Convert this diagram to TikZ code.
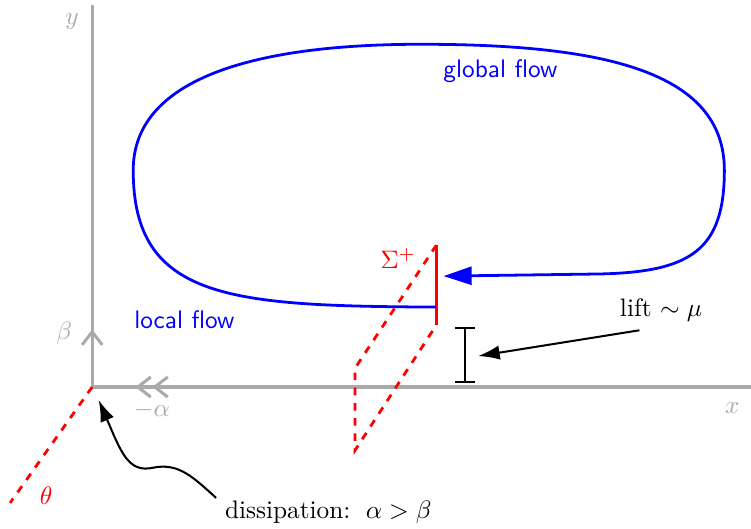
\documentclass[tikz,border=0pt]{standalone}
\usepackage{amsmath,amssymb}
\usepackage{xcolor}
\usetikzlibrary{arrows.meta}
\definecolor{axisgray}{RGB}{170,170,170}

\begin{document}
\begin{tikzpicture}[
    axis/.style={draw=axisgray, line width=1.2pt},
    axlabel/.style={text=axisgray},
    flow/.style={draw=blue, line width=1.1pt},
    flowlabel/.style={text=blue, font=\sffamily},
    sect/.style={draw=red, line width=1.1pt, dashed},
    arr/.style={-{Latex[length=3mm,width=2mm]}, thick}
]
    \useasboundingbox (-1.28,-1.97) rectangle (9.15,5.375);

    % Axes
    \coordinate (O) at (0,0);
    \draw[axis] (O) -- (0,5.31);
    \draw[axis] (O) -- (9.15,0);
    \draw[axis, -{Straight Barb[length=1.8mm,width=2.8mm]}] (0,0.6) -- (0,0.8);
    \draw[axis, -{Straight Barb[length=1.8mm,width=2.8mm] Straight Barb[length=1.8mm,width=2.8mm]}] (1.15,0) -- (0.6,0);
    \node[axlabel] (ylab) at (-0.28,5.07) {$y$};
    \node[axlabel] (xlab) at (8.89,-0.29) {$x$};
    \node[axlabel] (blab) at (-0.39,0.75) {$\beta$};
    \node[axlabel] (alab) at (0.83,-0.32) {$-\alpha$};

    % Dissipation direction
    \draw[sect] (O) -- (-1.14,-1.61);
    \node[text=red] (theta) at (-0.64,-1.51) {$\theta$};

    % Section
    \draw[sect] (4.78,1.97) -- (3.65,0.26) -- (3.65,-0.88) -- (4.78,0.86);
    \draw[draw=red, line width=1.3pt] (4.78,0.86) -- (4.78,1.97);
    \node[text=red] (sig) at (4.25,1.79) {$\Sigma^+$};

    % Flow loop
    \draw[flow, -{Triangle[length=3.9mm,width=2.5mm]}] (4.78,1.11)
        .. controls (1.92,1.125) and (0.57,1.21) .. (0.57,3.01)
        .. controls (0.57,4.26) and (2.19,4.76) .. (4.56,4.76)
        .. controls (7.06,4.76) and (8.78,4.4) .. (8.78,3.01)
        .. controls (8.78,1.9) and (8.31,1.6) .. (7.06,1.57) -- (4.88,1.54);
    \node[flowlabel] (glob) at (5.67,4.38) {global flow};
    \node[flowlabel] (loc) at (1.28,0.93) {local flow};

    % Lift
    \draw[thick, {Bar[width=2.8mm]}-{Bar[width=2.8mm]}] (5.18,0.06) -- (5.18,0.83);
    \coordinate (liftend) at (5.36,0.43);
    \node (lift) at (7.9,1.07) {lift $\sim\mu$};
    \draw[arr] ([xshift=-0.3cm]lift.south) -- (liftend);

    % Dissipation
    \node (diss) at (3.28,-1.74) {dissipation: \,$\alpha>\beta$};
    \coordinate (dtip) at (0.09,-0.18);
    \draw[arr] ([yshift=-0.08cm]diss.north west) .. controls (1.4,-1.25) and (1.2,-1.05) .. (0.85,-1.12)
        .. controls (0.5,-1.2) and (0.4,-0.9) .. (dtip);
\end{tikzpicture}
\end{document}
